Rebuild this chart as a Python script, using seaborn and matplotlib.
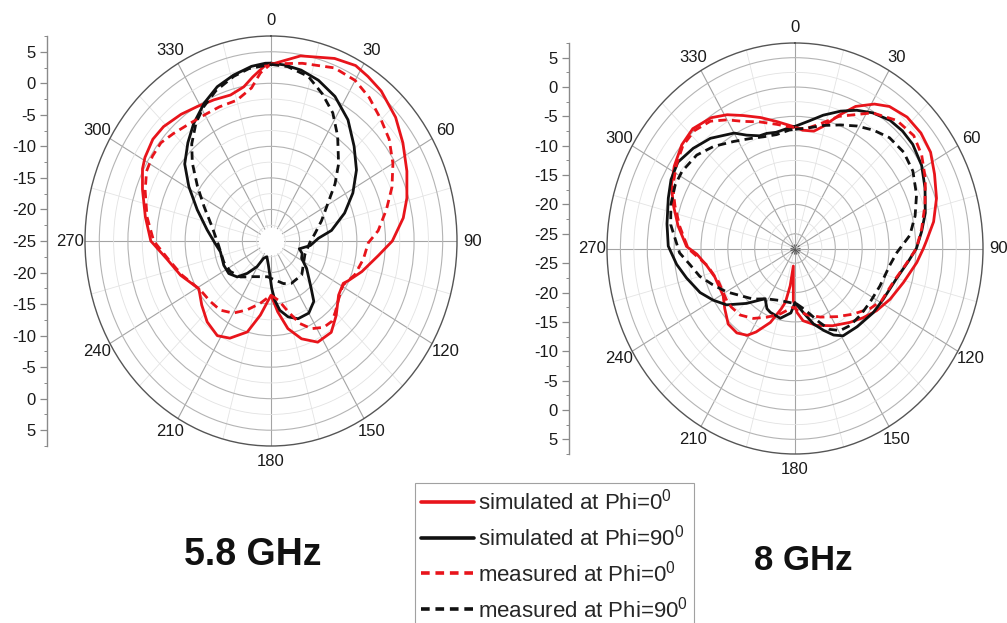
import numpy as np
import pandas as pd
import matplotlib
matplotlib.use("Agg")
import matplotlib.pyplot as plt
import seaborn as sns
from matplotlib.lines import Line2D
from matplotlib.ticker import FixedLocator

# ---------------------------------------------------------------------------
# Radiation patterns (angle in degrees, clockwise from 0 at top; gain in dB)
# ---------------------------------------------------------------------------

# 5.8 GHz
ang_58_sim0 = [0, 10, 21, 28, 33, 39, 48, 56, 65, 74, 81, 90, 97, 107, 115, 118, 126, 136, 144, 153,
               161, 168, 174, 180, 189, 196, 205, 212, 221, 230, 239, 251, 261, 270, 280, 290, 297,
               301, 308, 314, 322, 329, 336, 343, 349, 353, 358]
db_58_sim0 = [3.0, 4.8, 6.0, 6.5, 6.1, 5.6, 4.3, 2.8, 1.2, -0.3, -1.6, -3.8, -6.1, -8.4, -10.1, -10.7,
              -10.4, -8.6, -7.1, -7.0, -8.6, -10.8, -13.7, -16.4, -13.1, -10.0, -8.0, -7.3, -8.0, -9.2,
              -10.3, -8.3, -6.6, -4.0, -2.7, -1.1, 0.2, 0.7, 1.2, 1.1, 0.5, -0.1, -0.5, -0.8, -0.1, 1.2, 2.9]

ang_58_sim90 = [0, 5, 11, 18, 26, 35, 44, 53, 62, 71, 81, 87, 96, 104, 110, 117, 125, 137, 142, 150,
                159, 166, 172, 176, 179, 187, 196, 205, 211, 219, 226, 235, 245, 259, 268, 279, 291,
                301, 309, 317, 324, 332, 339, 346, 353, 358]
db_58_sim90 = [3.2, 3.0, 2.6, 1.8, 0.5, -1.55, -4.1, -6.3, -8.8, -11.4, -14.3, -16.7, -18.1, -19.9,
               -19.2, -19.0, -17.4, -14.7, -12.85, -11.8, -11.8, -12.6, -13.9, -15.6, -17.5, -21.2,
               -22.4, -22.0, -20.25, -18.4, -16.8, -16.0, -15.9, -16.0, -15.2, -13.7, -11.2, -8.25,
               -5.6, -3.7, -2.0, -0.2, 1.2, 2.1, 2.9, 3.2]

ang_58_meas0 = [0, 11, 22, 30, 37, 45, 52, 60, 68, 76, 85, 91, 100, 110, 119, 126, 135, 140, 146, 153,
                159, 165, 172, 180, 191, 201, 210, 219, 228, 238, 251, 261, 270, 280, 290, 297, 303,
                309, 315, 323, 331, 337, 345, 352, 356]
db_58_meas0 = [3.1, 3.7, 4.6, 4.4, 3.5, 2.2, 1.2, -0.4, -2.2, -4.2, -6.2, -8.0, -8.6, -9.4, -10.6,
               -10.2, -9.1, -8.4, -8.5, -9.4, -11.0, -13.4, -15.5, -16.4, -14.9, -13.3, -11.8, -10.9,
               -10.7, -10.4, -8.5, -6.8, -4.5, -3.0, -1.6, -0.6, -0.3, -0.25, -0.9, -1.6, -1.9, -1.9,
               -1.9, -0.5, 1.7]

ang_58_meas90 = [0, 6, 14, 21, 28, 35, 44, 51, 59, 70, 81, 92, 110, 124, 135, 152, 162, 174, 186, 208,
                 223, 236, 248, 266, 282, 295, 304, 312, 318, 325, 331, 338, 346, 352]
db_58_meas90 = [3.0, 2.8, 1.9, 0.0, -2.0, -4.7, -8.0, -10.6, -13.4, -15.6, -17.2, -18.2, -18.7, -18.2,
                -17.4, -17.4, -17.9, -18.8, -19.3, -18.6, -17.2, -16.4, -16.1, -15.8, -14.5, -12.1,
                -9.5, -6.5, -4.3, -2.15, -0.7, 0.7, 1.9, 2.6]

# 8 GHz
ang_8_sim0 = [0, 4, 10, 14, 20, 25, 31, 36, 43, 50, 57, 64, 72, 80, 87, 90, 96, 106, 116, 125, 133,
              141, 152, 163, 173, 178, 182, 186, 188, 191, 194, 200, 207, 211, 217, 224, 232, 239, 252,
              260, 267, 271, 280, 288, 295, 302, 310, 317, 325, 331, 337, 344, 351, 358]
db_8_sim0 = [-6.8, -7.3, -7.2, -6.1, -3.3, -0.8, 1.2, 2.4, 3.1, 3.1, 2.6, 1.4, 0.2, -1.3, -3.0, -3.6,
             -4.7, -6.5, -7.8, -9.0, -10.2, -11.3, -12.6, -13.8, -15.1, -16.6, -18.6, -24.5, -21.1,
             -18.2, -16.9, -14.1, -11.55, -10.25, -9.5, -9.6, -10.9, -11.9, -11.8, -10.8, -9.2, -7.3,
             -5.4, -3.7, -2.1, -1.0, 0.0, 0.4, -0.3, -1.45, -2.9, -4.3, -5.6, -6.6]

ang_8_sim90 = [0, 7, 13, 20, 26, 32, 39, 45, 51, 59, 67, 76, 83, 90, 96, 105, 118, 127, 139, 149, 154,
               159, 165, 172, 178, 180, 184, 193, 203, 207, 213, 224, 233, 240, 247, 256, 263, 271,
               280, 290, 297, 304, 312, 320, 330, 335, 341, 345, 350, 356]
db_8_sim90 = [-6.7, -5.6, -4.2, -2.6, -1.3, -0.25, 0.6, 0.8, 0.7, 0.0, -1.2, -2.5, -3.75, -4.9, -6.3,
              -7.9, -8.95, -9.3, -9.85, -10.15, -11.1, -12.55, -14.2, -16.5, -17.9, -18.3, -16.5,
              -15.3, -15.7, -16.0, -17.3, -14.5, -11.55, -9.9, -8.3, -6.7, -5.3, -3.9, -3.3, -2.4,
              -1.6, -1.2, -2.0, -3.0, -4.8, -6.2, -7.2, -7.2, -7.4, -7.0]

ang_8_meas0 = [0, 5, 12, 20, 32, 41, 49, 56, 64, 73, 82, 90, 98, 107, 119, 126, 136, 146, 158, 169,
               177, 182, 194, 204, 213, 222, 230, 235, 248, 260, 270, 280, 288, 295, 303, 310, 317,
               324, 330, 336, 343, 351, 357]
db_8_meas0 = [-6.9, -7.1, -5.85, -3.55, -0.25, 1.4, 1.8, 0.95, -0.5, -2.2, -3.7, -4.9, -6.8, -8.3,
              -9.1, -10.15, -11.95, -13.5, -14.9, -16.0, -16.9, -17.5, -16.0, -14.7, -13.3, -12.25,
              -12.0, -12.0, -12.2, -10.9, -7.6, -5.7, -4.0, -2.4, -1.2, -0.25, -0.05, -0.7, -2.2,
              -3.8, -4.95, -6.1, -6.75]

ang_8_meas90 = [0, 6, 14, 22, 29, 36, 43, 51, 59, 68, 76, 84, 92, 99, 112, 123, 133, 142, 149, 155,
                160, 166, 173, 178, 198, 212, 222, 232, 240, 248, 255, 262, 268, 280, 288, 296, 302,
                311, 319, 328, 336, 343, 350, 357]
db_8_meas90 = [-7.2, -6.9, -5.9, -4.8, -3.65, -2.6, -1.7, -1.45, -1.9, -3.1, -4.45, -6.0, -8.5, -9.6,
               -10.45, -10.8, -10.85, -10.85, -11.2, -12.3, -14.1, -16.0, -17.4, -18.05, -18.2, -17.4,
               -15.9, -14.5, -12.75, -11.0, -9.15, -7.75, -6.0, -4.0, -3.2, -2.7, -2.7, -3.25, -4.45,
               -6.0, -7.0, -7.6, -7.8, -7.3]

theta_labels = ["0", "30", "60", "90", "120", "150", "180", "210", "240", "270", "300", "330"]
scale_labels = [5, 0, -5, -10, -15, -20, -25]
panel_titles = ["5.8 GHz", "8 GHz"]
series_labels = ["simulated at Phi=0$^0$", "simulated at Phi=90$^0$",
                 "measured at Phi=0$^0$", "measured at Phi=90$^0$"]

# ---------------------------------------------------------------------------
sns.set_style("white")
plt.rcParams["font.family"] = ["Liberation Sans", "DejaVu Sans"]
plt.rcParams["mathtext.fontset"] = "custom"
plt.rcParams["mathtext.rm"] = "Liberation Sans"
plt.rcParams["mathtext.default"] = "regular"

RED = "#e8141b"
BLACK = "#111111"
DASH = (3.0, 1.9)
LW = 2.0
TICK_FS = 12

W, H = 1007, 623
fig = plt.figure(figsize=(W / 100, H / 100), dpi=100)


def frac_rect(x0, y0, x1, y1):
    """Pixel box (left, top, right, bottom) -> figure fraction rect."""
    return [x0 / W, 1 - y1 / H, (x1 - x0) / W, (y1 - y0) / H]


def draw_curve(ax, ang, db, color, dashed):
    a = np.deg2rad(np.append(ang, ang[0] + 360))
    d = np.append(db, db[0])
    df = pd.DataFrame({"theta": a, "dB": d})
    kw = dict(dashes=DASH) if dashed else dict(linestyle="-")
    sns.lineplot(data=df, x="theta", y="dB", ax=ax, sort=False, estimator=None,
                 color=color, lw=LW, legend=False, **kw)


def polar_panel(rect, rmin, rmax, curves, hole=0.0):
    ax = fig.add_axes(rect, projection="polar")
    for ang, db, color, dashed in curves:
        draw_curve(ax, ang, db, color, dashed)
    ax.set_aspect("auto")
    ax.set_theta_zero_location("N")
    ax.set_theta_direction(-1)
    ax.set_ylim(rmin, rmax)
    ax.set_xlabel("")
    ax.set_ylabel("")

    major_r = [v for v in np.arange(-25, 5.1, 5) if v > rmin]
    minor_r = [v for v in np.arange(-22.5, 7.4, 5) if v > rmin]
    ax.set_yticks(major_r)
    ax.set_yticklabels([])
    ax.yaxis.set_minor_locator(FixedLocator(minor_r))

    ax.set_xticks(np.deg2rad(np.arange(0, 360, 30)))
    ax.set_xticklabels(theta_labels, fontsize=TICK_FS, color="#1a1a1a")
    ax.xaxis.set_minor_locator(FixedLocator(np.deg2rad(np.arange(15, 360, 30))))
    ax.tick_params(axis="x", which="major", pad=4, length=0)
    ax.tick_params(axis="x", which="minor", bottom=True, length=4, width=0.8,
                   color="#555555", direction="in")

    ax.grid(True, which="major", axis="x", color="#a4a4a4", lw=0.8)
    ax.grid(True, which="minor", axis="x", color="#e4e4e4", lw=0.6)
    ax.grid(True, which="major", axis="y", color="#b4b4b4", lw=0.8)
    ax.grid(True, which="minor", axis="y", color="#e2e2e2", lw=0.6)
    ax.spines["polar"].set_color("#555555")
    ax.spines["polar"].set_linewidth(1.0)

    if hole > 0:
        t = np.linspace(0, 2 * np.pi, 181)
        ax.fill_between(t, rmin, rmin + hole, color="white", zorder=1, lw=0)
    return ax


def scale_axis(x_px, rect, rmin, rmax):
    sax = fig.add_axes([x_px / W, rect[1], 0.0005, rect[3]])
    span = rmax - rmin
    sax.set_ylim(-span, span)
    pos, labs = [], []
    for v in scale_labels:
        d = v - rmin
        if d > 0.01:
            pos += [d, -d]
            labs += [str(v), str(v)]
        else:
            pos.append(0.0)
            labs.append(str(v))
    sax.set_yticks(pos)
    sax.set_yticklabels(labs, fontsize=TICK_FS, color="#1a1a1a")
    minor = []
    for v in np.arange(-22.5, 7.6, 5):
        d = v - rmin
        if d > 0:
            minor += [d, -d]
    sax.yaxis.set_minor_locator(FixedLocator(minor))
    sax.set_xticks([])
    for s in ["top", "right", "bottom"]:
        sax.spines[s].set_visible(False)
    sax.spines["left"].set_color("#8a8a8a")
    sax.spines["left"].set_linewidth(1.0)
    sax.tick_params(axis="y", which="major", left=True, length=5, width=0.9,
                    color="#8a8a8a", direction="out", pad=3)
    sax.tick_params(axis="y", which="minor", left=True, length=2.5, width=0.7,
                    color="#8a8a8a", direction="out")
    sax.patch.set_visible(False)
    return sax


# 5.8 GHz panel
rect_l = frac_rect(85, 36, 457, 446)
polar_panel(rect_l, -25, 7.5, [
    (ang_58_sim0, db_58_sim0, RED, False),
    (ang_58_sim90, db_58_sim90, BLACK, False),
    (ang_58_meas0, db_58_meas0, RED, True),
    (ang_58_meas90, db_58_meas90, BLACK, True),
], hole=2.2)
scale_axis(47, rect_l, -25, 7.5)

# 8 GHz panel
rect_r = frac_rect(607, 43, 983, 454)
polar_panel(rect_r, -27.5, 7.5, [
    (ang_8_sim0, db_8_sim0, RED, False),
    (ang_8_sim90, db_8_sim90, BLACK, False),
    (ang_8_meas0, db_8_meas0, RED, True),
    (ang_8_meas90, db_8_meas90, BLACK, True),
])
scale_axis(569, rect_r, -27.5, 7.5)

fig.text(253 / W, 1 - 555 / H, panel_titles[0], ha="center", va="center",
         fontsize=27, fontweight="bold", color="#111111")
fig.text(803 / W, 1 - 560 / H, panel_titles[1], ha="center", va="center",
         fontsize=25, fontweight="bold", color="#111111")

handles = [
    Line2D([], [], color=RED, lw=2.6),
    Line2D([], [], color=BLACK, lw=2.6),
    Line2D([], [], color=RED, lw=2.6, dashes=(2.4, 1.6)),
    Line2D([], [], color=BLACK, lw=2.6, dashes=(2.4, 1.6)),
]
leg = fig.legend(handles, series_labels, loc="upper left",
                 bbox_to_anchor=(415 / W, 1 - 483 / H), fontsize=16, frameon=True,
                 fancybox=False, edgecolor="#8a8a8a", handlelength=2.4,
                 handletextpad=0.2, labelspacing=0.45, borderpad=0.25, borderaxespad=0)
leg.get_frame().set_linewidth(0.8)

fig.savefig("out.png", dpi=100, facecolor="white")
